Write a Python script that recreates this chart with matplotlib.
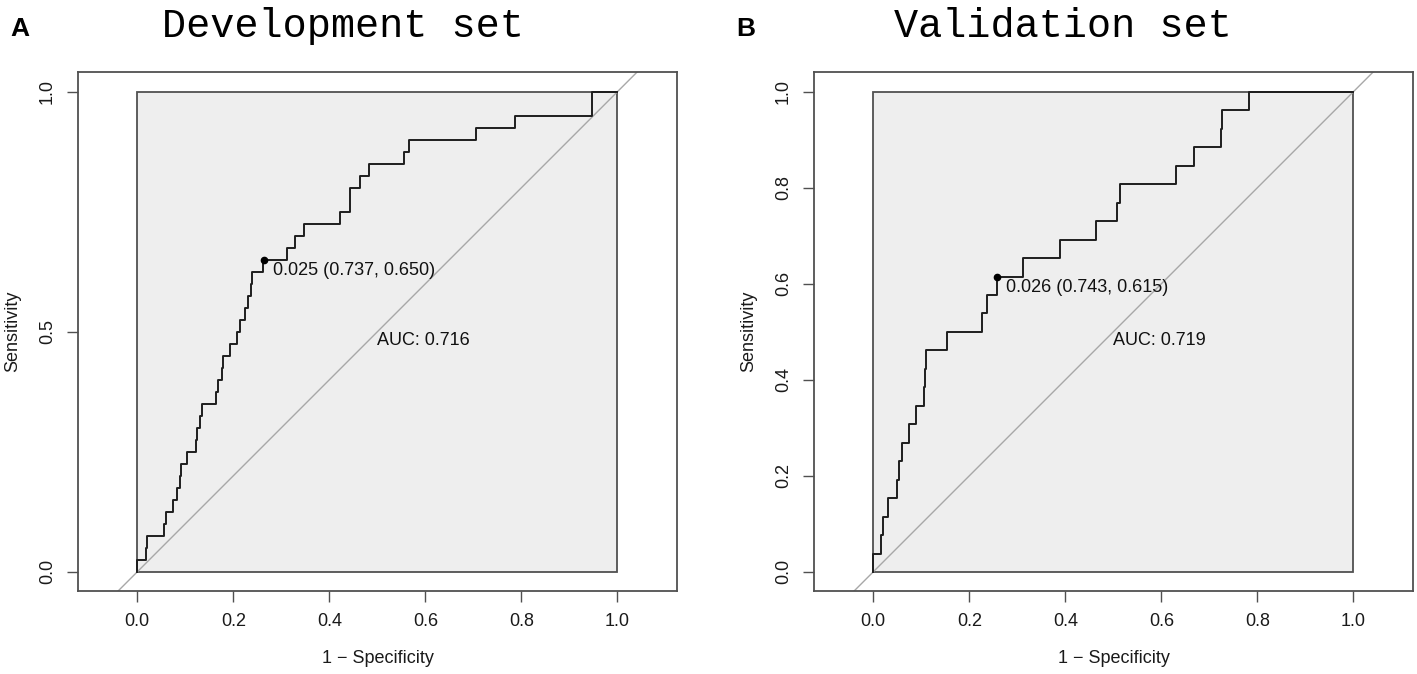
import matplotlib
matplotlib.use("Agg")
import matplotlib.pyplot as plt
from matplotlib.patches import Rectangle

# ---------------- data ----------------
dev_fpr = [0.0, 0.0, 0.0174, 0.0194, 0.0556, 0.059, 0.075, 0.083, 0.088, 0.092,
           0.103, 0.1215, 0.125, 0.130, 0.134, 0.163, 0.168, 0.176, 0.179, 0.194,
           0.208, 0.214, 0.224, 0.230, 0.236, 0.238, 0.2625, 0.311, 0.328, 0.347,
           0.423, 0.443, 0.444, 0.464, 0.483, 0.555, 0.566, 0.705, 0.787, 0.947, 1.0]
dev_tpr = [0.0, 0.025, 0.05, 0.075, 0.1, 0.125, 0.15, 0.175, 0.2, 0.225,
           0.25, 0.275, 0.3, 0.325, 0.35, 0.375, 0.4, 0.425, 0.45, 0.475,
           0.5, 0.525, 0.55, 0.575, 0.6, 0.625, 0.65, 0.675, 0.7, 0.725,
           0.75, 0.775, 0.8, 0.825, 0.85, 0.875, 0.9, 0.925, 0.95, 1.0, 1.0]

val_fpr = [0.0, 0.0, 0.016, 0.0194, 0.030, 0.050, 0.053, 0.060, 0.075, 0.089,
           0.1056, 0.108, 0.110, 0.154, 0.227, 0.237, 0.257, 0.3125, 0.389, 0.463,
           0.507, 0.514, 0.630, 0.667, 0.724, 0.727, 0.783, 1.0]
val_tpr = [0.0, 0.038, 0.077, 0.115, 0.154, 0.192, 0.231, 0.269, 0.308, 0.346,
           0.385, 0.423, 0.462, 0.5, 0.538, 0.577, 0.615, 0.654, 0.692, 0.731,
           0.769, 0.808, 0.846, 0.885, 0.923, 0.962, 1.0, 1.0]

dev_point = (0.263, 0.650)
val_point = (0.257, 0.615)
dev_point_label = "0.025 (0.737, 0.650)"
val_point_label = "0.026 (0.743, 0.615)"
dev_auc_label = "AUC: 0.716"
val_auc_label = "AUC: 0.719"

titles = ["Development set", "Validation set"]
panel_letters = ["A", "B"]
dev_yticks = [0.0, 0.5, 1.0]
val_yticks = [0.0, 0.2, 0.4, 0.6, 0.8, 1.0]
xticks = [0.0, 0.2, 0.4, 0.6, 0.8, 1.0]

# ---------------- figure ----------------
W, H = 1417, 674
fig = plt.figure(figsize=(W / 100, H / 100), dpi=100)
fig.patch.set_facecolor("white")

SANS = ["Liberation Sans", "DejaVu Sans"]
FRAME = "#505050"
FILL = "#EEEEEE"
CURVE = "#1E1E1E"
DIAG = "#A8A8A8"


def px_axes(x0, x1, y0, y1):
    return fig.add_axes([x0 / W, 1 - y1 / H, (x1 - x0) / W, (y1 - y0) / H])


panels = [
    dict(frame=(78, 677), fpr=dev_fpr, tpr=dev_tpr, pt=dev_point,
         plab=dev_point_label, auc=dev_auc_label, yt=dev_yticks,
         title_x=342.5, letter_x=20),
    dict(frame=(814, 1413), fpr=val_fpr, tpr=val_tpr, pt=val_point,
         plab=val_point_label, auc=val_auc_label, yt=val_yticks,
         title_x=1062.5, letter_x=746),
]

for i, p in enumerate(panels):
    ax = px_axes(p["frame"][0], p["frame"][1], 72, 591)
    ax.set_xlim(-0.1235, 1.124)
    ax.set_ylim(-0.040, 1.041)
    ax.set_facecolor("white")
    for s in ax.spines.values():
        s.set_color(FRAME)
        s.set_linewidth(1.3)

    ax.add_patch(Rectangle((0, 0), 1, 1, facecolor=FILL, edgecolor=FRAME,
                           linewidth=1.3, zorder=1))
    ax.axline((0, 0), (1, 1), color=DIAG, linewidth=1.0, zorder=2)
    ax.step(p["fpr"], p["tpr"], where="post", color=CURVE, linewidth=1.4,
            zorder=3)
    ax.plot([p["pt"][0]], [p["pt"][1]], "o", color="black", markersize=4.5,
            zorder=4)
    ax.text(p["pt"][0] + 0.019, p["pt"][1] - 0.023, p["plab"], ha="left",
            va="center", fontsize=13, family=SANS, color="#111111", zorder=5)
    ax.text(0.5, 0.5, p["auc"], ha="left", va="top", fontsize=13,
            family=SANS, color="#111111", zorder=5)

    ax.set_xticks(xticks)
    ax.set_xticklabels([f"{v:.1f}" for v in xticks])
    ax.set_yticks(p["yt"])
    ax.set_yticklabels([f"{v:.1f}" for v in p["yt"]])
    ax.tick_params(axis="both", direction="out", length=7.9, width=1.0,
                   color=FRAME, labelsize=13, labelcolor="#1A1A1A", pad=8)
    for lbl in ax.get_xticklabels() + ax.get_yticklabels():
        lbl.set_family(SANS)
    for lbl in ax.get_yticklabels():
        lbl.set_rotation(90)
        lbl.set_va("center")

    ax.text(0.5, -0.131, "1 \u2212 Specificity", transform=ax.transAxes,
            ha="center", va="center", fontsize=13, family=SANS,
            color="#1A1A1A")
    ax.text(-0.1085, 0.5, "Sensitivity", transform=ax.transAxes,
            rotation=90, ha="center", va="center", fontsize=13, family=SANS,
            color="#1A1A1A")

    fig.text(p["title_x"] / W, 1 - 37 / H, titles[i], ha="center",
             va="baseline", fontsize=29,
             family=["Liberation Mono", "DejaVu Sans Mono"], color="black")
    fig.text(p["letter_x"] / W, 1 - 35.7 / H, panel_letters[i], ha="center",
             va="baseline", fontsize=19, fontweight="bold",
             family=SANS, color="black")

fig.savefig("out.png", dpi=100, facecolor="white")
